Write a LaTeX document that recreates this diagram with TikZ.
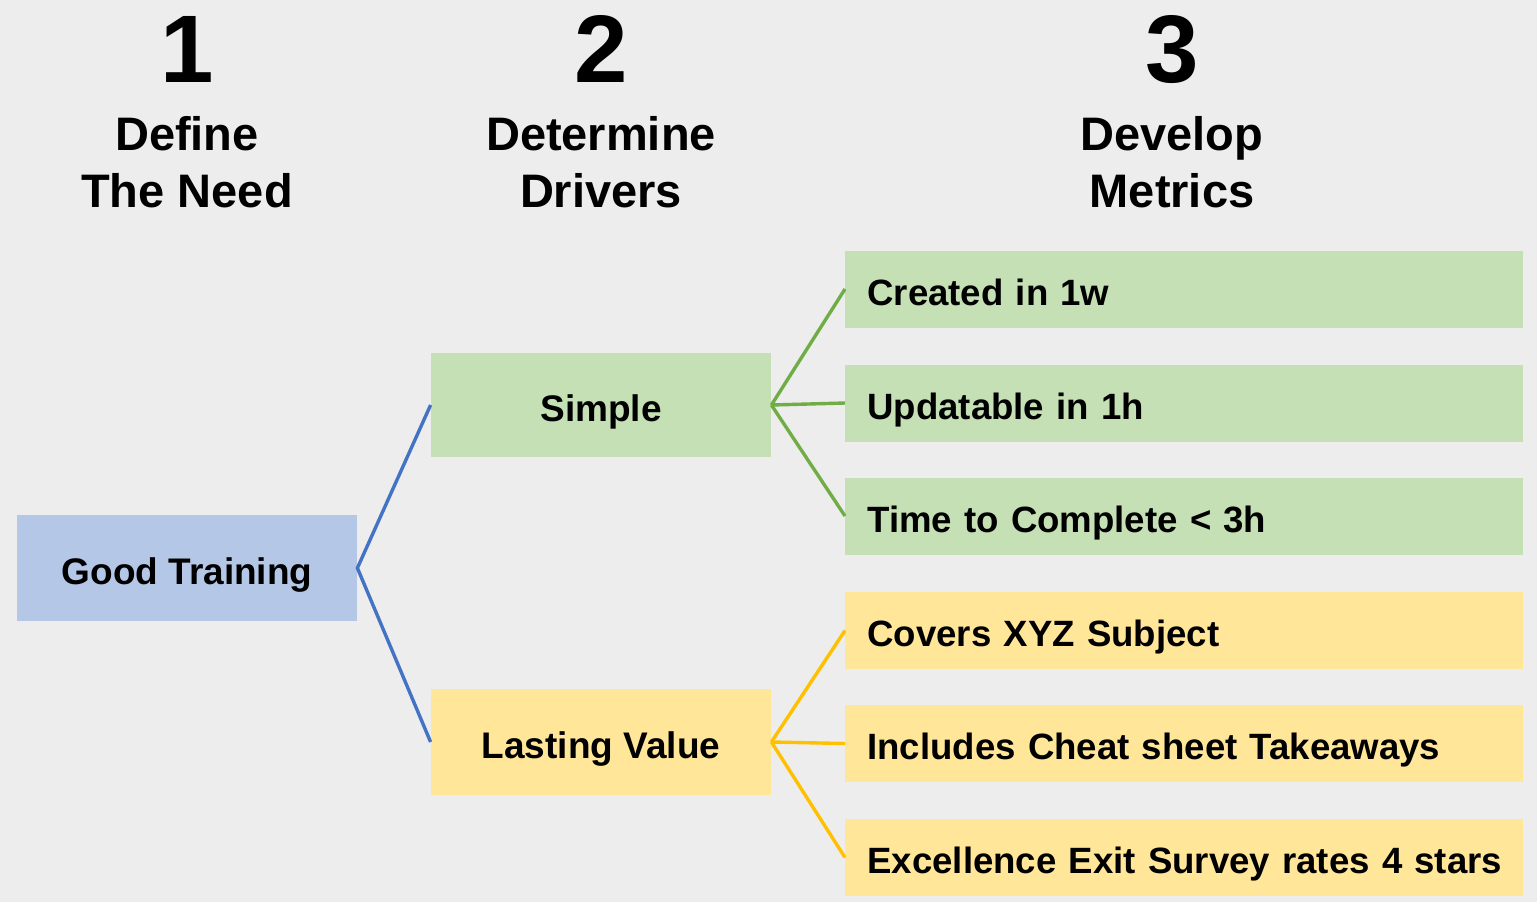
\documentclass[tikz,border=0pt]{standalone}
\usepackage{fontspec}
\setmainfont{Liberation Sans}
\definecolor{bgc}{HTML}{EDEDED}
\definecolor{needfill}{HTML}{B4C7E7}
\definecolor{simplefill}{HTML}{C5E0B4}
\definecolor{valuefill}{HTML}{FFE699}
\definecolor{needline}{HTML}{4472C4}
\definecolor{simpleline}{HTML}{70AD47}
\definecolor{valueline}{HTML}{FFC000}
\tikzset{
  numlabel/.style={anchor=base, inner sep=0pt, font=\fontsize{48}{56}\selectfont\bfseries},
  headlabel/.style={anchor=base, inner sep=0pt, font=\fontsize{23.5}{28}\selectfont\bfseries},
  mainbox/.style={rectangle, draw=none, minimum width=170pt, minimum height=53pt,
    inner sep=0pt, text height=16pt, text depth=0pt,
    font=\fontsize{18.5}{22}\selectfont\bfseries},
  metricbox/.style={rectangle, draw=none, anchor=west, text width=317pt, align=left,
    inner xsep=11pt, inner ysep=0pt, minimum height=38.5pt,
    text height=16pt, text depth=0pt,
    font=\fontsize{18.3}{22}\selectfont\bfseries},
  link/.style={line width=1.7pt},
}
\begin{document}
\begin{tikzpicture}[x=0.5pt, y=-0.5pt]
  % canvas
  \fill[bgc] (0,0) rectangle (1537,902);
  \useasboundingbox (0,0) rectangle (1537,902);

  % column headings
  \node[numlabel] (n1) at (187,82) {1};
  \node[numlabel] (n2) at (601,82) {2};
  \node[numlabel] (n3) at (1172,82) {3};
  \node[headlabel] (h1a) at (187,150) {Define};
  \node[headlabel] (h1b) at (187,207) {The Need};
  \node[headlabel] (h2a) at (601,150) {Determine};
  \node[headlabel] (h2b) at (601,207) {Drivers};
  \node[headlabel] (h3a) at (1172,150) {Develop};
  \node[headlabel] (h3b) at (1172,207) {Metrics};

  % need and drivers
  \node[mainbox, fill=needfill] (need) at (187,568) {Good Training};
  \node[mainbox, fill=simplefill, minimum height=52pt] (simple) at (601,405) {Simple};
  \node[mainbox, fill=valuefill] (value) at (601,742) {Lasting Value};

  % metrics
  \node[metricbox, fill=simplefill] (m1) at (845,289) {Created in 1w};
  \node[metricbox, fill=simplefill] (m2) at (845,403) {Updatable in 1h};
  \node[metricbox, fill=simplefill] (m3) at (845,516) {Time to Complete < 3h};
  \node[metricbox, fill=valuefill] (m4) at (845,630.5) {Covers XYZ Subject};
  \node[metricbox, fill=valuefill] (m5) at (845,743.5) {Includes Cheat sheet Takeaways};
  \node[metricbox, fill=valuefill] (m6) at (845,857.5) {\mbox{Excellence Exit Survey rates 4 stars}};

  % connectors
  \draw[link, needline] (simple.west) -- (need.east) -- (value.west);
  \draw[link, simpleline] (simple.east) -- (m1.west);
  \draw[link, simpleline] (simple.east) -- (m2.west);
  \draw[link, simpleline] (simple.east) -- (m3.west);
  \draw[link, valueline] (value.east) -- (m4.west);
  \draw[link, valueline] (value.east) -- (m5.west);
  \draw[link, valueline] (value.east) -- (m6.west);
\end{tikzpicture}
\end{document}
